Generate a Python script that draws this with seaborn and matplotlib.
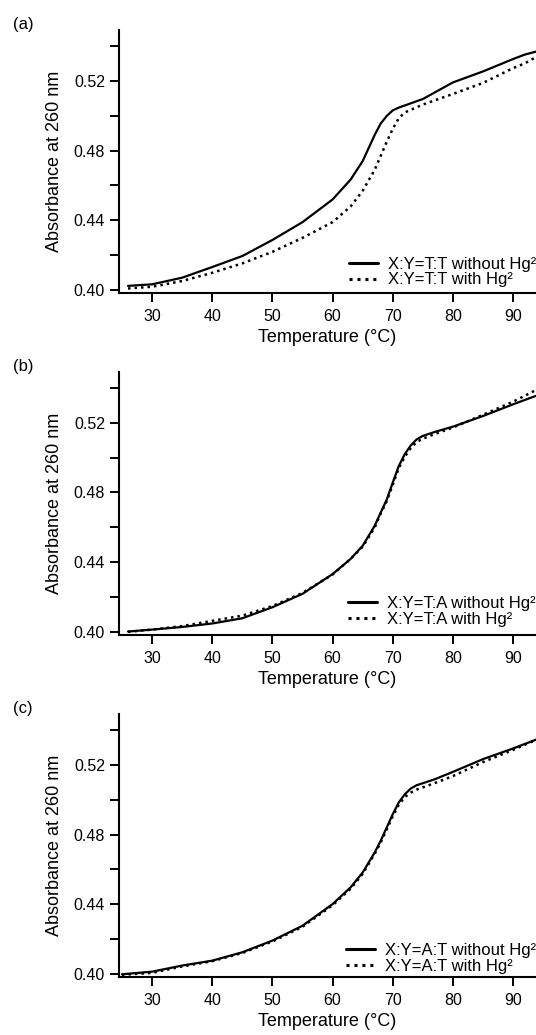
import pandas as pd
import seaborn as sns
import matplotlib.pyplot as plt
from matplotlib.ticker import MultipleLocator, FormatStrFormatter

# temperatures (°C) and absorbance at 260 nm
temp_a = [26, 30, 35, 40, 45, 50, 55, 60, 63, 65, 67, 68, 69, 70, 71, 72, 75, 80, 85, 90, 92, 94]
abs_a_without = [0.4025, 0.4034, 0.4072, 0.4133, 0.4196, 0.4288, 0.4390, 0.4520, 0.4634, 0.4740,
                 0.4890, 0.4955, 0.4998, 0.5030, 0.5046, 0.5058, 0.5095, 0.5190, 0.5253, 0.5324,
                 0.5350, 0.5368]
abs_a_with = [0.4010, 0.4020, 0.4053, 0.4100, 0.4154, 0.4220, 0.4300, 0.4390, 0.4480, 0.4570,
              0.4690, 0.4770, 0.4850, 0.4925, 0.4985, 0.5018, 0.5063, 0.5124, 0.5187, 0.5272,
              0.5300, 0.5339]

temp_b = [26, 30, 35, 40, 45, 50, 55, 60, 63, 65, 67, 68, 69, 70, 71, 72, 73, 74, 75, 77, 80, 85, 90, 94]
abs_b_without = [0.4004, 0.4015, 0.4030, 0.4050, 0.4080, 0.4143, 0.4220, 0.4333, 0.4420, 0.4495,
                 0.4610, 0.4686, 0.4760, 0.4857, 0.4952, 0.5020, 0.5070, 0.5105, 0.5124, 0.5147,
                 0.5177, 0.5238, 0.5305, 0.5356]
abs_b_with = [0.4002, 0.4015, 0.4035, 0.4065, 0.4095, 0.4150, 0.4225, 0.4330, 0.4420, 0.4490,
              0.4600, 0.4680, 0.4750, 0.4845, 0.4940, 0.5005, 0.5055, 0.5090, 0.5108, 0.5135,
              0.5172, 0.5245, 0.5320, 0.5390]

temp_c = [25, 30, 35, 40, 45, 50, 55, 60, 63, 65, 67, 68, 69, 70, 71, 72, 73, 74, 75, 77, 80, 85, 90, 94]
abs_c_without = [0.4000, 0.4015, 0.4050, 0.4078, 0.4126, 0.4193, 0.4278, 0.4402, 0.4498, 0.4583,
                 0.4698, 0.4765, 0.4841, 0.4917, 0.4984, 0.5031, 0.5064, 0.5083, 0.5094, 0.5117,
                 0.5159, 0.5232, 0.5293, 0.5346]
abs_c_with = [0.3997, 0.4008, 0.4045, 0.4075, 0.4122, 0.4188, 0.4272, 0.4395, 0.4490, 0.4575,
              0.4690, 0.4755, 0.4830, 0.4905, 0.4970, 0.5015, 0.5040, 0.5058, 0.5070, 0.5095,
              0.5135, 0.5215, 0.5285, 0.5345]

pairs = ["T:T", "T:A", "A:T"]
panel_tags = ["(a)", "(b)", "(c)"]
x_ticks = [30, 40, 50, 60, 70, 80, 90]

sns.set_theme(style="ticks")
plt.rcParams['font.family'] = ['Liberation Sans', 'DejaVu Sans']
plt.rcParams['text.color'] = 'black'
plt.rcParams['axes.labelcolor'] = 'black'

fig = plt.figure(figsize=(5.36, 10.35), dpi=100)

panels = [
    (temp_a, abs_a_without, abs_a_with),
    (temp_b, abs_b_without, abs_b_with),
    (temp_c, abs_c_without, abs_c_with),
]
bottoms = [0.7172, 0.3868, 0.0563]
tag_y = [25, 367, 709]
legend_y = [0.02, 0.03, 0.01]

for i, (temps, y_without, y_with) in enumerate(panels):
    ax = fig.add_axes([119 / 536, bottoms[i], 1 - 119 / 536, 0.2538])
    df = pd.DataFrame({
        'Temperature': temps + temps,
        'Absorbance': y_without + y_with,
        'cond': [f'X:Y={pairs[i]} without Hg²'] * len(temps) + [f'X:Y={pairs[i]} with Hg²'] * len(temps),
    })
    labels = df['cond'].unique()
    sns.lineplot(data=df[df['cond'] == labels[0]], x='Temperature', y='Absorbance',
                 color='black', lw=1.6, label=labels[0], ax=ax)
    sns.lineplot(data=df[df['cond'] == labels[1]], x='Temperature', y='Absorbance',
                 color='black', lw=1.8, linestyle=(0, (1, 1.6)), label=labels[1], ax=ax)

    ax.set_xlim(24.5, 93.8)
    ax.set_ylim(0.3986, 0.549)
    ax.set_xticks(x_ticks)
    ax.yaxis.set_major_locator(MultipleLocator(0.04))
    ax.yaxis.set_minor_locator(MultipleLocator(0.02))
    ax.yaxis.set_major_formatter(FormatStrFormatter('%.2f'))
    ax.tick_params(axis='both', which='both', direction='out', length=6.5, width=1.4,
                   color='black', labelcolor='black')
    ax.tick_params(axis='x', pad=5.2, labelsize=11.5)
    ax.tick_params(axis='y', pad=3.5, labelsize=11.5)
    sns.despine(ax=ax)
    for side in ['left', 'bottom']:
        ax.spines[side].set_linewidth(1.5)
        ax.spines[side].set_color('black')

    ax.set_xlabel('Temperature (°C)', fontsize=13, labelpad=3.5)
    ax.set_ylabel('Absorbance at 260 nm', fontsize=13, labelpad=8)

    leg = ax.legend(loc='lower right', bbox_to_anchor=(1.0, legend_y[i]), frameon=False,
                    fontsize=12, borderpad=0, borderaxespad=0, handlelength=1.75,
                    handletextpad=0.6, labelspacing=0.05)
    for h in leg.get_lines():
        h.set_linewidth(2.2)

    fig.text(23 / 536, 1 - tag_y[i] / 1035, panel_tags[i], ha='center', va='center', fontsize=12)

fig.savefig('out.png', dpi=100)
